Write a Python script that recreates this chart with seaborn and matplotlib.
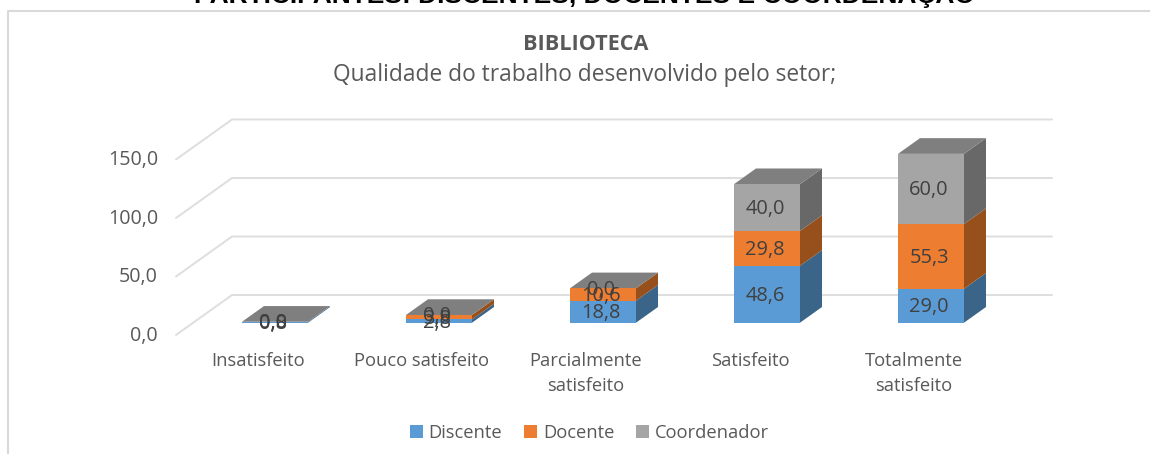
import matplotlib
matplotlib.use("Agg")
import matplotlib.pyplot as plt
from matplotlib.lines import Line2D
from matplotlib.patches import Polygon, Patch
import numpy as np
import seaborn as sns

categories = ["Insatisfeito", "Pouco satisfeito", "Parcialmente\nsatisfeito", "Satisfeito", "Totalmente\nsatisfeito"]
discente = [0.8, 2.8, 18.8, 48.6, 29.0]
docente = [0.0, 3.8, 10.6, 29.8, 55.3]
coordenador = [0.0, 0.0, 0.0, 40.0, 60.0]
series_names = ["Discente", "Docente", "Coordenador"]
y_ticks = [0, 50, 100, 150]
y_tick_labels = ["0,0", "50,0", "100,0", "150,0"]
title_top = "PARTICIPANTES: DISCENTES, DOCENTES E COORDENAÇÃO"
title = "BIBLIOTECA"
subtitle = "Qualidade do trabalho desenvolvido pelo setor;"

W, H = 1150, 454
FRONT = ["#5B9BD5", "#ED7D31", "#A5A5A5"]
SIDE = ["#3A6488", "#97501C", "#686868"]
TOP = "#7F7F7F"
TEXT = "#595959"
GRID = "#DEDEDE"

sns.set_theme(style="white")
plt.rcParams["font.family"] = ["Open Sans", "DejaVu Sans"]
fig = plt.figure(figsize=(W / 100, H / 100), dpi=100, facecolor="white")

# axes frame in pixels: x 176..1052, y 119..335
px_per_x, px_per_y = 164.0, 1.17
ax = fig.add_axes([176 / W, 1 - 335 / H, (1052 - 176) / W, (335 - 119) / H])
ax.set_xlim((176 - 275) / px_per_x, (1052 - 275) / px_per_x)
ax.set_ylim((322.7 - 335) / px_per_y, (322.7 - 119) / px_per_y)
ax.patch.set_alpha(0)
sns.despine(ax=ax, left=True, bottom=True)

xp = np.arange(len(categories))
bar_w = 66 / px_per_x
dx, dy = 22 / px_per_x, 15.7 / px_per_y
x0, y0 = ax.get_xlim()[0], ax.get_ylim()[0]
wall_dx, wall_dy = 56 / px_per_x, 40 / px_per_y

# walls
for t in y_ticks:
    ax.plot([x0, x0 + wall_dx, ax.get_xlim()[1]],
            [t + y0, t + y0 + wall_dy, t + y0 + wall_dy],
            color=GRID, lw=1.4, zorder=1, clip_on=False, solid_joinstyle="miter")

# stacked bars
bottom = np.zeros(len(categories))
stack = [discente, docente, coordenador]
for k, (name, vals) in enumerate(zip(series_names, stack)):
    vals = np.array(vals, dtype=float)
    sns.barplot(x=xp, y=vals, bottom=bottom, color=FRONT[k], saturation=1, width=bar_w,
                native_scale=True, ax=ax, linewidth=0, zorder=4, clip_on=False)
    for i in range(len(xp)):
        r = xp[i] + bar_w / 2
        b, t = bottom[i], bottom[i] + vals[i]
        ax.add_patch(Polygon([(r, b), (r + dx, b + dy), (r + dx, t + dy), (r, t)],
                             closed=True, fc=SIDE[k], ec="none", zorder=3, clip_on=False))
    bottom = bottom + vals

for i in range(len(xp)):
    l, r, t = xp[i] - bar_w / 2, xp[i] + bar_w / 2, bottom[i]
    ax.add_patch(Polygon([(l, t), (r, t), (r + dx, t + dy), (l + dx, t + dy)],
                         closed=True, fc=TOP, ec="none", zorder=3, clip_on=False))

# data labels
bottom = np.zeros(len(categories))
for vals in stack:
    for i, v in enumerate(vals):
        ax.text(xp[i] - 2 / px_per_x, bottom[i] + v / 2 - 1.5 / px_per_y, f"{v:.1f}".replace(".", ","),
                ha="center", va="center", fontsize=14.4, color="#404040", zorder=6)
    bottom = bottom + np.array(vals)

# axes ticks
ax.set_xticks([])
ax.set_xlabel("")
ax.set_yticks([])
ax.set_ylabel("")
xshift = 17 / px_per_x
secx = ax.secondary_xaxis("bottom", functions=(lambda v: v + xshift, lambda v: v - xshift))
secx.set_xticks(xp)
secx.set_xticklabels(categories, fontsize=13.2, color=TEXT, linespacing=1.48, va="top")
secx.tick_params(axis="x", length=0, pad=12.5)
secx.spines["bottom"].set_visible(False)
shift = 10.5 / px_per_y
sec = ax.secondary_yaxis("left", functions=(lambda v: v + shift, lambda v: v - shift))
sec.set_yticks(y_ticks)
sec.set_yticklabels(y_tick_labels, fontsize=14.2, color=TEXT)
sec.tick_params(axis="y", length=0, pad=13)
sec.spines["left"].set_visible(False)

# legend
handles = [Patch(fc=c, ec="none", label=n) for c, n in zip(FRONT, series_names)]
fig.legend(handles=handles, loc="center", bbox_to_anchor=(589.5 / W, 1 - 433 / H), ncol=3, frameon=False,
           fontsize=13.2, labelcolor=TEXT, handlelength=0.71, handleheight=0.71, handletextpad=0.3,
           columnspacing=1.2, borderpad=0, borderaxespad=0)

# titles
fig.text(585 / W, 1 + 6 / H, title_top, ha="center", va="center", fontsize=19, fontweight="bold",
         color="black", family=["Liberation Sans"])
fig.text(586 / W, 1 - 45 / H, title, ha="center", va="center", fontsize=15.6, fontweight="bold", color=TEXT)
fig.text(585 / W, 1 - 75 / H, subtitle, ha="center", va="center", fontsize=16.4, color=TEXT)

# chart border
fig.add_artist(Line2D([8 / W, 8 / W, 1], [0, 1 - 11 / H, 1 - 11 / H], color="#D9D9D9", lw=1.5,
                      transform=fig.transFigure))

fig.savefig("out.png", dpi=100, facecolor="white")
